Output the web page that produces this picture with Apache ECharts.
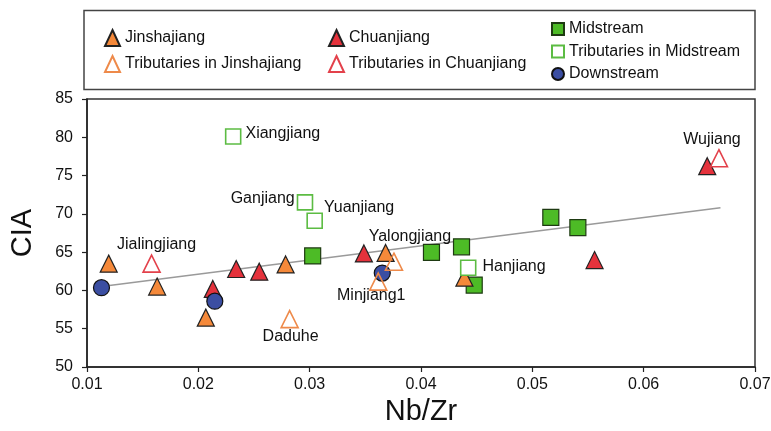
<!DOCTYPE html>
<html><head><meta charset="utf-8">
<script src="https://cdn.jsdelivr.net/npm/echarts@6/dist/echarts.min.js"></script>
<style>html,body{margin:0;padding:0;background:#fff}#c{width:771px;height:431px}</style>
</head><body><div id="c"></div>
<script>
const jinX = [0.01195, 0.0163, 0.02067, 0.02784, 0.03682, 0.0439];
const jinY = [63.5, 60.5, 56.45, 63.4, 64.9, 61.66];
const jinTribX = [0.0282, 0.03757, 0.03616];
const jinTribY = [56.25, 63.75, 61.15];
const jinTribNames = ['Daduhe', 'Yalongjiang', 'Minjiang1'];
const chuanX = [0.0213, 0.0234, 0.02547, 0.03487, 0.05559, 0.06571];
const chuanY = [60.2, 62.8, 62.45, 64.83, 63.96, 76.23];
const chuanTribX = [0.0158, 0.06676];
const chuanTribY = [63.5, 77.27];
const chuanTribNames = ['Jialingjiang', 'Wujiang'];
const midX = [0.03027, 0.04094, 0.04364, 0.04478, 0.05166, 0.05409];
const midY = [64.5, 64.96, 65.7, 60.7, 69.55, 68.2];
const midTribX = [0.02313, 0.02958, 0.03045, 0.04424];
const midTribY = [80.1, 71.5, 69.1, 62.97];
const midTribNames = ['Xiangjiang', 'Ganjiang', 'Yuanjiang', 'Hanjiang'];
const downX = [0.0113, 0.02148, 0.03652];
const downY = [60.36, 58.6, 62.27];
const trendX = [0.0113, 0.0669];
const trendY = [60.5, 70.8];
const r2Text = 'R²=0.2362';
const xTicks = [0.01, 0.02, 0.03, 0.04, 0.05, 0.06, 0.07];
const yTicks = [50, 55, 60, 65, 70, 75, 80, 85];

const FONT = '"Liberation Sans", Arial, sans-serif';
const TXT = '#111';
const labelStyle = {
  Xiangjiang: {position: 'right', distance: 4, offset: [0, -3]},
  Ganjiang: {position: 'left', distance: 2, offset: [0, -4]},
  Yuanjiang: {position: 'right', distance: 1, offset: [0, -13]},
  Hanjiang: {position: 'right', distance: 6, offset: [0, -1]},
  Jialingjiang: {position: 'top', distance: 2, offset: [5, 0]},
  Wujiang: {position: 'top', distance: 1, offset: [-7, 0]},
  Yalongjiang: {position: 'top', distance: 8, offset: [16, 0]},
  Minjiang1: {position: 'bottom', distance: 0, offset: [-7, -3]},
  Daduhe: {position: 'bottom', distance: 0, offset: [1, 0]}
};
function pts(xs, ys, names) {
  return xs.map((x, i) => {
    const d = {value: [x, ys[i]]};
    if (names) {
      d.name = names[i];
      const ls = labelStyle[names[i]];
      d.label = Object.assign({show: true, formatter: names[i], fontSize: 16, color: TXT, fontFamily: FONT}, ls);
    }
    return d;
  });
}
const ORANGE = '#f5893a', RED = '#e5323c', GREEN = '#4dbb26', BLUE = '#3b4ea2';
const series = [
  {name: 'Midstream', type: 'scatter', symbol: 'rect', symbolSize: 16,
   itemStyle: {color: GREEN, borderColor: '#1e3a12', borderWidth: 1.2, opacity: 1}, data: pts(midX, midY)},
  {name: 'Chuanjiang', type: 'scatter', symbol: 'triangle', symbolSize: 17,
   itemStyle: {color: RED, borderColor: '#222', borderWidth: 1.2, opacity: 1}, data: pts(chuanX, chuanY)},
  {name: 'Jinshajiang', type: 'scatter', symbol: 'triangle', symbolSize: 17,
   itemStyle: {color: ORANGE, borderColor: '#222', borderWidth: 1.2, opacity: 1}, data: pts(jinX, jinY)},
  {name: 'Downstream', type: 'scatter', symbol: 'circle', symbolSize: 16,
   itemStyle: {color: BLUE, borderColor: '#111', borderWidth: 1.2, opacity: 1}, data: pts(downX, downY)},
  {name: 'Tributaries in Midstream', type: 'scatter', symbol: 'rect', symbolSize: 15,
   itemStyle: {color: '#fff', borderColor: '#5cbc43', borderWidth: 1.6, opacity: 1}, data: pts(midTribX, midTribY, midTribNames)},
  {name: 'Tributaries in Chuanjiang', type: 'scatter', symbol: 'triangle', symbolSize: 17,
   itemStyle: {color: 'rgba(255,255,255,0)', borderColor: '#e3414b', borderWidth: 1.6, opacity: 1}, data: pts(chuanTribX, chuanTribY, chuanTribNames)},
  {name: 'Tributaries in Jinshajiang', type: 'scatter', symbol: 'triangle', symbolSize: 17,
   itemStyle: {color: 'rgba(255,255,255,0)', borderColor: '#ee8a4a', borderWidth: 1.6, opacity: 1}, data: pts(jinTribX, jinTribY, jinTribNames)},
  {name: 'trend', type: 'line', symbol: 'none', z: 1,
   lineStyle: {color: '#9a9a9a', width: 1.5},
   data: trendX.map((x, i) => {
     const d = {value: [x, trendY[i]]};
     if (i === trendX.length - 1) {
       d.label = {show: true, formatter: r2Text, position: 'inside', offset: [-11, 23], fontSize: 14, color: TXT, fontFamily: FONT};
       d.symbol = 'circle'; d.symbolSize = 1; d.itemStyle = {opacity: 0};
     }
     return d;
   })}
];
const legendCommon = {orient: 'vertical', textStyle: {fontSize: 16, color: TXT, fontFamily: FONT}, selectedMode: false};
const chart = echarts.init(document.getElementById('c'));
chart.setOption({
  animation: false,
  backgroundColor: '#fff',
  textStyle: {fontFamily: FONT},
  grid: {left: 87, right: 16, top: 99, bottom: 64, outerBoundsMode: 'none', containLabel: false,
    show: true, borderColor: '#333', borderWidth: 1.5, backgroundColor: 'transparent'},
  legend: [
    Object.assign({}, legendCommon, {left: 99, top: 24, itemWidth: 15, itemHeight: 16, itemGap: 8,
      data: ['Jinshajiang', 'Tributaries in Jinshajiang']}),
    Object.assign({}, legendCommon, {left: 323, top: 24, itemWidth: 15, itemHeight: 16, itemGap: 8,
      data: ['Chuanjiang', 'Tributaries in Chuanjiang']}),
    Object.assign({}, legendCommon, {left: 546, top: 16, itemWidth: 12, itemHeight: 12, itemGap: 6.5,
      data: ['Midstream', 'Tributaries in Midstream', 'Downstream']})
  ],
  graphic: [{type: 'rect', shape: {x: 84, y: 10.5, width: 671, height: 79},
    style: {fill: 'none', stroke: '#444', lineWidth: 1.5}, silent: true}],
  xAxis: {type: 'value', min: xTicks[0], max: xTicks[xTicks.length - 1], interval: 0.01,
    name: 'Nb/Zr', nameLocation: 'middle', nameGap: 29,
    nameTextStyle: {fontSize: 29, color: TXT, fontFamily: FONT},
    axisLine: {lineStyle: {color: '#222', width: 1.5}},
    axisTick: {show: true, length: 5, lineStyle: {color: '#222', width: 1.2}},
    axisLabel: {fontSize: 16, color: TXT, margin: 10, formatter: v => v.toFixed(2)},
    splitLine: {show: false}},
  yAxis: {type: 'value', min: yTicks[0], max: yTicks[yTicks.length - 1], interval: 5,
    name: 'CIA', nameLocation: 'middle', nameGap: 50,
    nameTextStyle: {fontSize: 29, color: TXT, fontFamily: FONT},
    axisLine: {lineStyle: {color: '#222', width: 1.5}},
    axisTick: {show: true, length: 5, lineStyle: {color: '#222', width: 1.2}},
    axisLabel: {fontSize: 16, color: TXT, margin: 14},
    splitLine: {show: false}},
  series: series
});
</script></body></html>
